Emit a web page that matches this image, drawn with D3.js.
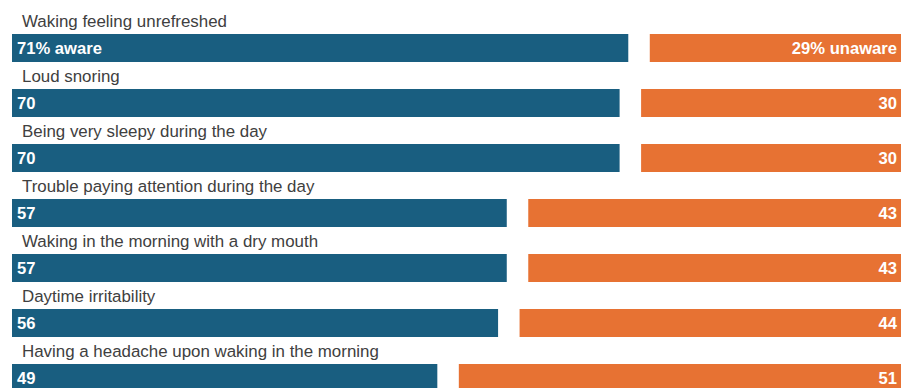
<!DOCTYPE html>
<html>
<head>
<meta charset="utf-8">
<script src="https://cdn.jsdelivr.net/npm/d3@7/dist/d3.min.js"></script>
<style>
  html, body { margin: 0; padding: 0; background: #fff; overflow: hidden; }
  svg { display: block; }
</style>
</head>
<body>
<svg id="chart" width="901" height="388"></svg>
<script>
const categories = [
  "Waking feeling unrefreshed",
  "Loud snoring",
  "Being very sleepy during the day",
  "Trouble paying attention during the day",
  "Waking in the morning with a dry mouth",
  "Daytime irritability",
  "Having a headache upon waking in the morning"
];
const aware = [71, 70, 70, 57, 57, 56, 49];
const unaware = [29, 30, 30, 43, 43, 44, 51];
const firstAwareSuffix = "% aware";
const firstUnawareSuffix = "% unaware";

const svg = d3.select("#chart");
const left = 12, gap = 21.5, barH = 28;
const x = d3.scaleLinear().domain([0, 100]).range([0, 868]);
const y = d3.scaleLinear().domain([0, categories.length - 1]).range([34, 34 + 55 * (categories.length - 1)]);

const rows = svg.selectAll("g.row").data(categories).join("g").attr("class", "row");

rows.append("text")
  .attr("x", 22)
  .attr("y", (d, i) => y(i) - 7)
  .attr("font-family", "Liberation Sans, Arial, sans-serif")
  .attr("font-size", 16.9)
  .attr("fill", "#404040")
  .text(d => d);

rows.append("rect")
  .attr("x", left)
  .attr("y", (d, i) => y(i))
  .attr("width", (d, i) => x(aware[i]))
  .attr("height", barH)
  .attr("fill", "#195E80");

rows.append("rect")
  .attr("x", (d, i) => left + x(aware[i]) + gap)
  .attr("y", (d, i) => y(i))
  .attr("width", (d, i) => x(unaware[i]) + 2)
  .attr("height", barH)
  .attr("fill", "#E77233");

rows.append("text")
  .attr("x", left + 5)
  .attr("y", (d, i) => y(i) + 20)
  .attr("font-family", "Liberation Sans, Arial, sans-serif")
  .attr("font-size", 16.6)
  .attr("font-weight", "bold")
  .attr("fill", "#fff")
  .text((d, i) => i === 0 ? aware[i] + firstAwareSuffix : aware[i]);

rows.append("text")
  .attr("x", 897)
  .attr("y", (d, i) => y(i) + 20)
  .attr("text-anchor", "end")
  .attr("font-family", "Liberation Sans, Arial, sans-serif")
  .attr("font-size", 16.6)
  .attr("font-weight", "bold")
  .attr("fill", "#fff")
  .text((d, i) => i === 0 ? unaware[i] + firstUnawareSuffix : unaware[i]);
</script>
</body>
</html>
